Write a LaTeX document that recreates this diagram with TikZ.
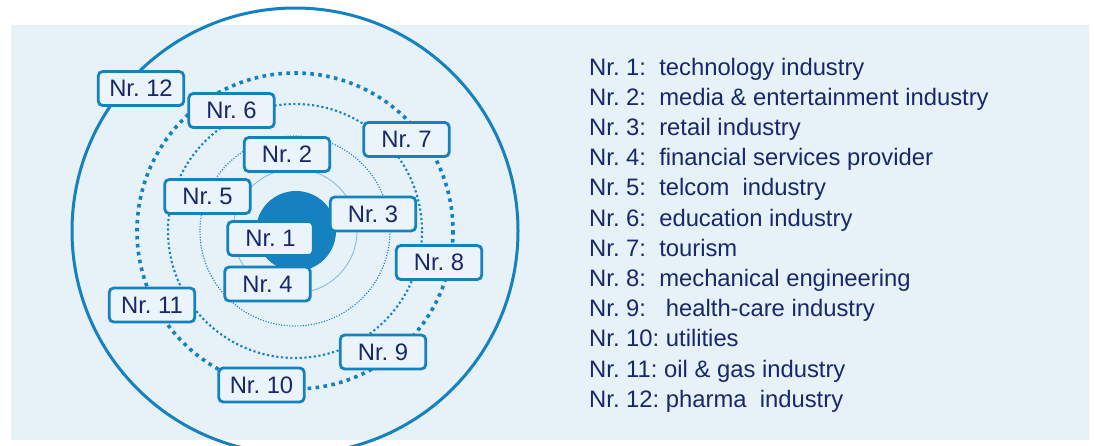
\documentclass[tikz,border=0pt]{standalone}
\usepackage{fontspec}
\setmainfont{Liberation Sans}
\frenchspacing
\definecolor{bgblue}{HTML}{E6F1F8}
\definecolor{boxfill}{HTML}{EAF4FA}
\definecolor{ringblue}{HTML}{1581BF}
\definecolor{lightring}{HTML}{7DB8DD}
\definecolor{navy}{HTML}{18286A}
\begin{document}
\begin{tikzpicture}[x=1pt,y=-1pt,
  nrbox/.style={draw=ringblue, line width=2.8pt, rounded corners=4.5pt, fill=boxfill,
    minimum width=85.5pt, minimum height=34pt, inner sep=0pt, text=navy,
    font=\frenchspacing\fontsize{23.8}{27}\selectfont},
  legend/.style={anchor=base west, inner sep=0pt, text=navy, font=\frenchspacing\fontsize{23.8}{27}\selectfont},
  ringA/.style={draw=lightring, line width=0.8pt},
  ringB/.style={draw=ringblue, line width=1.1pt, dash pattern=on 1.1pt off 1.6pt},
  ringC/.style={draw=ringblue, line width=2.1pt, dash pattern=on 2.1pt off 2.6pt},
  ringD/.style={draw=ringblue, line width=3.6pt, dash pattern=on 3.6pt off 4.4pt},
  ringE/.style={draw=ringblue, line width=3pt}
]
\useasboundingbox (0,0) rectangle (1094,445);
\fill[bgblue] (11,25) rectangle (1089,440);
\coordinate (c) at (295,231);
% rings
\draw[ringA] (c) circle[radius=62];
\draw[ringB] (c) circle[radius=95];
\draw[ringC] (c) circle[radius=127];
\draw[ringD] (c) circle[radius=158];
\draw[ringE] (c) circle[radius=223];
\fill[ringblue] (296,231) circle[radius=40];
% boxes
\node[nrbox] (n12) at (141,88.5) {Nr. 12};
\node[nrbox] (n6) at (231.5,110.5) {Nr. 6};
\node[nrbox] (n7) at (406.5,139.5) {Nr. 7};
\node[nrbox] (n2) at (287,154.5) {Nr. 2};
\node[nrbox] (n5) at (207.5,196.5) {Nr. 5};
\node[nrbox] (n3) at (373,214) {Nr. 3};
\node[nrbox] (n1) at (270.5,238.5) {Nr. 1};
\node[nrbox] (n4) at (267.5,284) {Nr. 4};
\node[nrbox] (n8) at (439,262.5) {Nr. 8};
\node[nrbox] (n11) at (152,305) {Nr. 11};
\node[nrbox] (n9) at (383,352) {Nr. 9};
\node[nrbox] (n10) at (261.5,385) {Nr. 10};
% legend
\node[legend] (l1) at (589,75.0) {Nr. 1:\ \ technology industry};
\node[legend] (l2) at (589,105.2) {Nr. 2:\ \ media \& entertainment industry};
\node[legend] (l3) at (589,135.4) {Nr. 3:\ \ retail industry};
\node[legend] (l4) at (589,165.6) {Nr. 4:\ \ financial services provider};
\node[legend] (l5) at (589,195.8) {Nr. 5:\ \ telcom\ \ industry};
\node[legend] (l6) at (589,226.0) {Nr. 6:\ \ education industry};
\node[legend] (l7) at (589,256.2) {Nr. 7:\ \ tourism};
\node[legend] (l8) at (589,286.4) {Nr. 8:\ \ mechanical engineering};
\node[legend] (l9) at (589,316.6) {Nr. 9:\ \ \ health-care industry};
\node[legend] (l10) at (589,346.8) {Nr. 10: utilities};
\node[legend] (l11) at (589,377.0) {Nr. 11: oil \& gas industry};
\node[legend] (l12) at (589,407.2) {Nr. 12: pharma\ \ industry};
\end{tikzpicture}
\end{document}
